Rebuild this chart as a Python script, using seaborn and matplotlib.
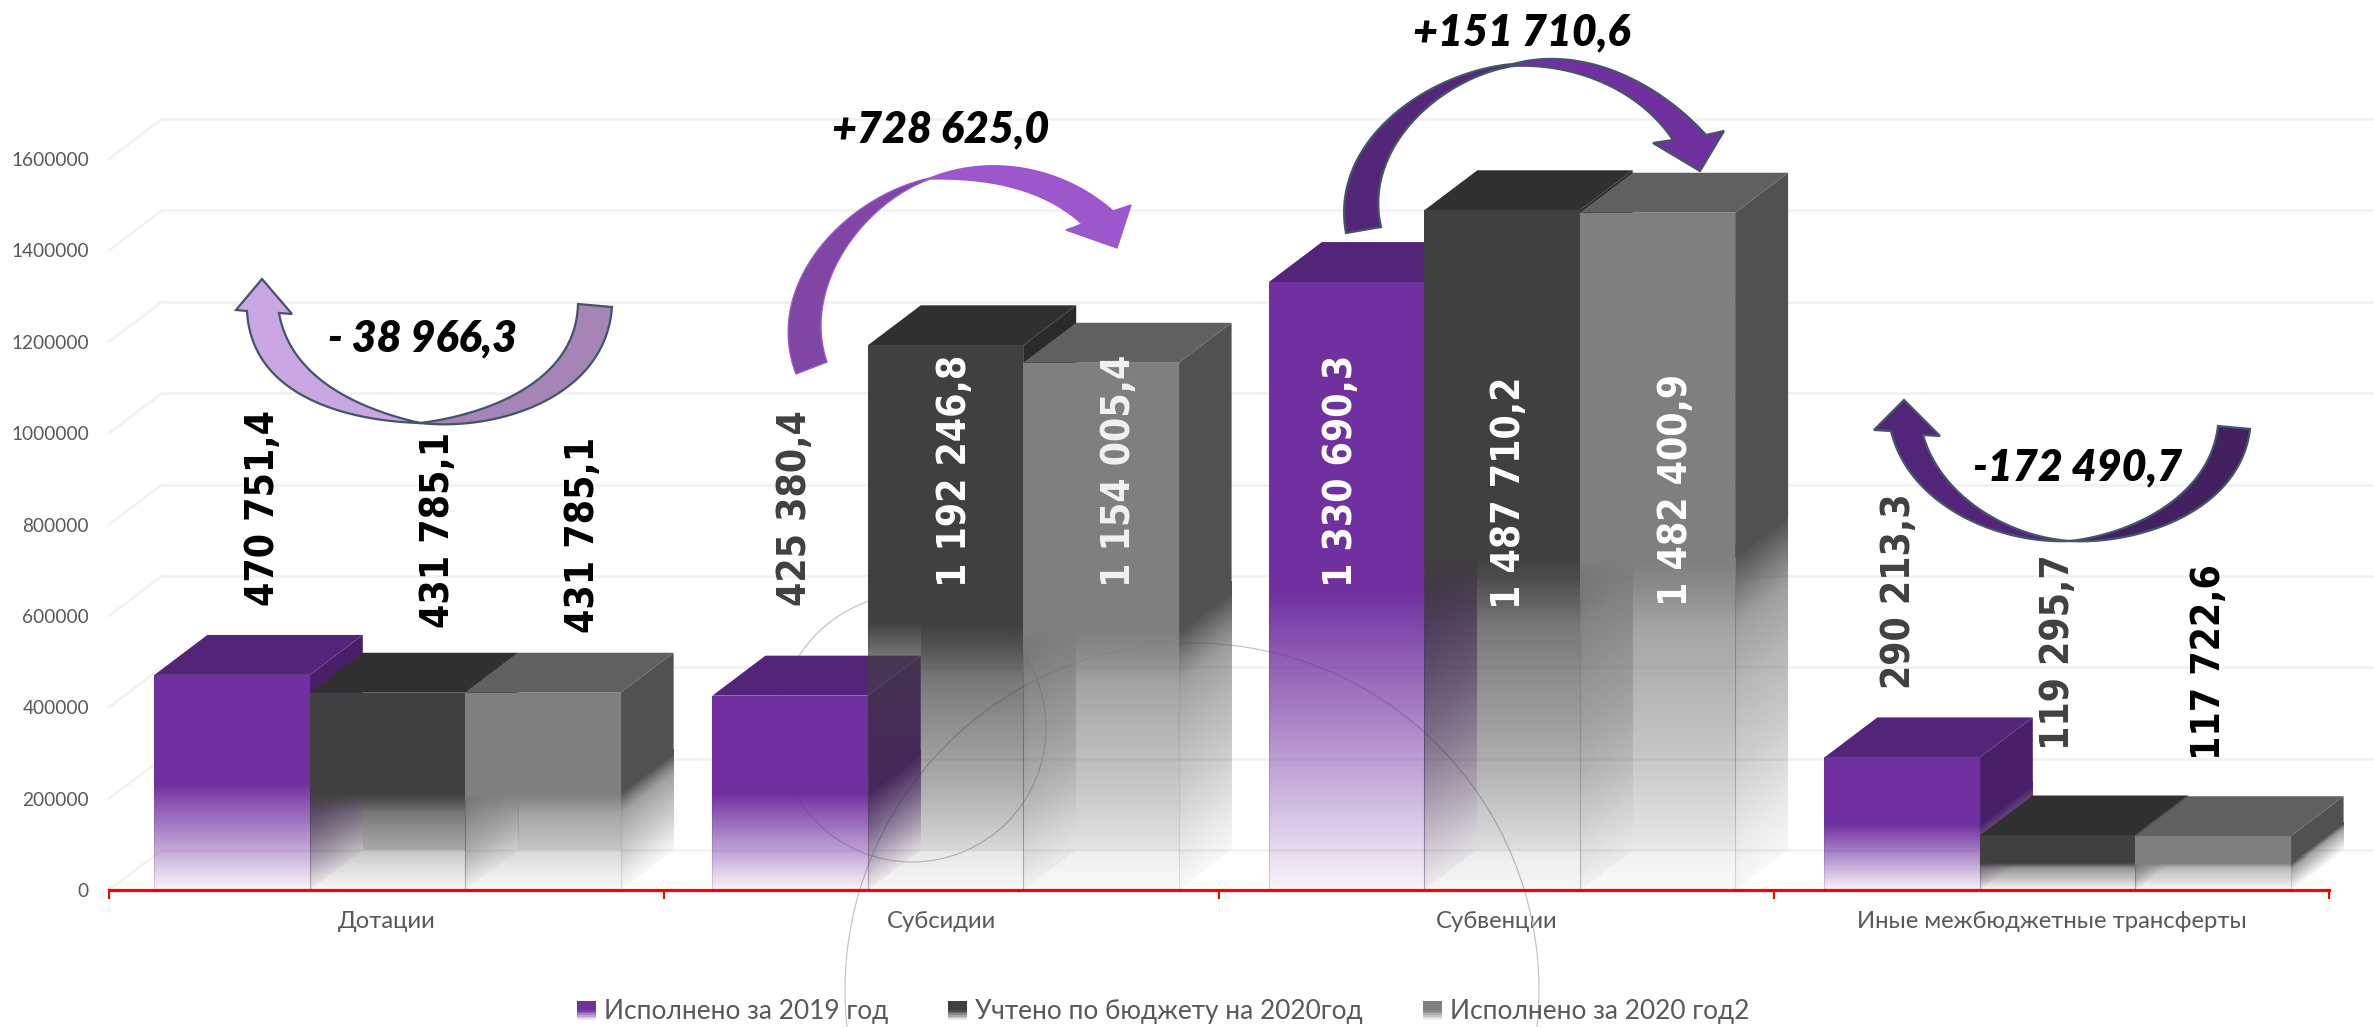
import matplotlib
matplotlib.use("Agg")
import matplotlib.pyplot as plt
import numpy as np
import pandas as pd
import seaborn as sns
from matplotlib.legend_handler import HandlerBase
from matplotlib.patches import Circle, Patch, Polygon, Rectangle
from matplotlib.transforms import Affine2D

categories = ["Дотации", "Субсидии", "Субвенции", "Иные межбюджетные трансферты"]
series_names = ["Исполнено за 2019 год", "Учтено по бюджету на 2020год", "Исполнено за 2020 год2"]
executed_2019 = [470751.4, 425380.4, 1330690.3, 290213.3]
budget_2020 = [431785.1, 1192246.8, 1487710.2, 119295.7]
executed_2020 = [431785.1, 1154005.4, 1482400.9, 117722.6]
y_ticks = [0, 200000, 400000, 600000, 800000, 1000000, 1200000, 1400000, 1600000]
changes = ["- 38 966,3", "+728 625,0", "+151 710,6", "-172 490,7"]

W, H = 2374, 1027
PX_X, PX_Y = 555, 91.4 / 200000   # pixels per data unit
DX, DY = 53 / PX_X, 40 / PX_Y     # depth of the fake 3D, in data units
group_nudge = [1 / PX_X, 4 / PX_X, 5.5 / PX_X, 6 / PX_X]   # groups sit a bit off the tick centres

front_cols = ["#7030A0", "#404040", "#7F7F7F"]
top_cols = ["#532578", "#303030", "#606060"]
side_cols = ["#481F66", "#2A2A2A", "#515151"]
grid_col = "#F1F1F1"
text_grey = "#595959"

# how opaque a face is at a fraction of the bar height
fade_t = [0, 0.07, 0.19, 0.30, 0.39, 0.43, 0.49]
fade_purple = [0.05, 0.18, 0.42, 0.64, 0.80, 0.88, 1.0]
fade_grey = [0.04, 0.12, 0.29, 0.42, 0.55, 0.72, 1.0]
fade_curves = [fade_purple, fade_grey, fade_grey]
wall_share = [0, 0.65, 0.65]
FADE_TOP = 0.49
SIDE_OVERLAP = 0.02   # side image runs a little under the solid part, no seam

# label positions in picture pixels: x centre, y of the text start
label_pos = [[(263, 606), (438, 628), (583, 633)],
             [(795, 606), (955, 587), (1119, 587)],
             [(1341, 587), (1509, 609), (1676, 606)],
             [(1899, 689), (2058, 750), (2209, 760)]]
label_cols = [["black", "black", "black"],
              ["#404040", "white", "#F2F2F2"],
              ["white", "white", "white"],
              ["#404040", "#404040", "black"]]
change_pos = [(423, 338), (941, 129), (1522, 32), (2078, 467)]

sns.set_theme(style="white")
plt.rcParams["font.family"] = ["Lato", "Open Sans", "DejaVu Sans"]

fig = plt.figure(figsize=(W / 100, H / 100), dpi=100)
ax = fig.add_axes([109 / W, (H - 890) / H, 2220 / W, 731 / H])
ax.patch.set_visible(False)
px = Affine2D().scale(1, -1).translate(0, H)   # decorations are placed in picture pixels

df = pd.DataFrame({
    "cat": categories * 3,
    "series": np.repeat(series_names, 4),
    "value": executed_2019 + budget_2020 + executed_2020,
})
sns.barplot(data=df, x="cat", y="value", hue="series", palette=front_cols, saturation=1,
            width=0.84, gap=0, legend=False, ax=ax)
ax.set_xlabel("")
ax.set_ylabel("")


def fade_image(x0, x1, y0, y1, col, alpha_of, z):
    # one pixel per cell, so the slanted faces get no moire
    nx = max(int(round((x1 - x0) * PX_X)), 1)
    ny = max(int(round((y1 - y0) * PX_Y)), 1)
    xs = np.linspace(x0, x1, nx, endpoint=False) + (x1 - x0) / nx / 2
    ys = np.linspace(y0, y1, ny, endpoint=False) + (y1 - y0) / ny / 2
    X, Y = np.meshgrid(xs, ys)
    img = np.zeros((ny, nx, 4))
    img[..., :3] = matplotlib.colors.to_rgb(col)
    img[..., 3] = alpha_of(X, Y)
    ax.imshow(img, extent=(x0, x1, y0, y1), origin="lower", aspect="auto", interpolation="nearest",
              zorder=z, clip_on=False)


def draw_bar(bar, i, z):
    x0, x1 = bar.get_x(), bar.get_x() + bar.get_width()
    h = bar.get_height()
    curve = fade_curves[i]
    top = FADE_TOP * h

    def fade(t, upper=FADE_TOP):
        return np.where((t >= 0) & (t < upper), np.interp(t, fade_t, curve), 0)

    # back wall, seen through the faded front only
    if wall_share[i] > 0 and top > DY:
        fade_image(x0 + DX, x1, DY, top, front_cols[i],
                   lambda X, Y: wall_share[i] * fade(Y / h), z)

    # side face
    fade_image(x1, x1 + DX, 0, top + DY + SIDE_OVERLAP * h, side_cols[i],
               lambda X, Y: fade((Y - DY * (X - x1) / DX) / h, FADE_TOP + SIDE_OVERLAP), z + 0.1)
    ax.add_patch(Polygon([(x1, top), (x1 + DX, top + DY), (x1 + DX, h + DY), (x1, h)],
                         facecolor=side_cols[i], edgecolor="none", zorder=z + 0.1, clip_on=False))

    # top face
    ax.add_patch(Polygon([(x0, h), (x1, h), (x1 + DX, h + DY), (x0 + DX, h + DY)],
                         facecolor=top_cols[i], edgecolor="none", zorder=z + 0.2, clip_on=False))

    # front face, the seaborn bar keeps only its outline
    fade_image(x0, x1, 0, top, front_cols[i], lambda X, Y: fade(Y / h), z + 0.3)
    ax.add_patch(Rectangle((x0, top), x1 - x0, h - top, facecolor=front_cols[i],
                           edgecolor="none", zorder=z + 0.3))
    bar.set_facecolor("none")
    bar.set_edgecolor(matplotlib.colors.to_rgba(front_cols[i], 0.2))
    bar.set_linewidth(0.8)
    bar.set_zorder(z + 0.4)


for i, container in enumerate(ax.containers):
    for j, bar in enumerate(container):
        bar.set_x(bar.get_x() + group_nudge[j])
        draw_bar(bar, i, 3 + i)

ax.set_xlim(-0.5, 3.5)
ax.set_ylim(0, 1600000)

# grid on the back wall with its diagonals on the left
for y in y_ticks:
    ax.plot([-0.5, -0.5 + DX], [y, y + DY], color=grid_col, lw=1.8, zorder=1, clip_on=False)
    ax.plot([-0.5 + DX, 3.5 + DX], [y + DY, y + DY], color=grid_col, lw=1.8, zorder=1, clip_on=False)

# two thin circles left behind the chart
for cx, cy, r in [(912, 728, 134), (1192, 990, 347)]:
    ax.add_patch(Circle((cx, cy), r, transform=px, fill=False, edgecolor="#BFBFBF", lw=0.8,
                        zorder=1.5, clip_on=False))

sns.despine(ax=ax, left=True, top=True, right=True)
ax.spines["bottom"].set_color("#FF0000")
ax.spines["bottom"].set_linewidth(2.3)
ax.spines["bottom"].set_zorder(20)

ax.set_yticks(y_ticks)
ax.set_yticklabels([str(v) for v in y_ticks])
ax.tick_params(axis="y", length=0, pad=14.5, labelsize=13.7, labelcolor=text_grey)
ax.set_xticks([-0.5, 0.5, 1.5, 2.5, 3.5], labels=[""] * 5)
ax.set_xticks([0, 1, 2, 3], labels=categories, minor=True)
ax.tick_params(axis="x", which="major", length=6.5, width=1.5, color="#FF0000", bottom=True)
ax.tick_params(axis="x", which="minor", length=0, pad=15, labelsize=17.2, labelcolor=text_grey)

# values on the bars
for i, vals in enumerate([executed_2019, budget_2020, executed_2020]):
    for j, v in enumerate(vals):
        s = f"{v:,.1f}".replace(",", " ").replace(".", ",")
        lx, ly = label_pos[j][i]
        ax.text(lx, ly, s, transform=px, rotation=90, ha="center", va="bottom", fontsize=28,
                fontweight="bold", fontstretch="condensed", family="DejaVu Sans",
                color=label_cols[j][i], zorder=40, clip_on=False)


def smooth(pts, deg=3, n=50):
    # cubic through the outline points, ends held in place
    pts = np.array(pts, float)
    d = np.r_[0, np.cumsum(np.hypot(*np.diff(pts, axis=0).T))]
    d /= d[-1]
    w = np.ones(len(pts))
    w[[0, -1]] = 30
    t = np.linspace(0, 1, n)
    return np.c_[np.polyval(np.polyfit(d, pts[:, 0], deg, w=w), t),
                 np.polyval(np.polyfit(d, pts[:, 1], deg, w=w), t)]


def curved_arrow(tail_outer, tail_inner, head_outer, head_inner, barbs, tail_col, head_col, edge, lw=1.6):
    tail = np.vstack([smooth(tail_outer), smooth(tail_inner)[::-1]])
    head = np.vstack([smooth(head_outer), np.array(barbs, float), smooth(head_inner)[::-1]])
    for shape, col, z in [(tail, tail_col, 30), (head, head_col, 30.1)]:
        ax.add_patch(Polygon(shape, closed=True, transform=px, facecolor=col, edgecolor=edge, lw=lw,
                             joinstyle="miter", zorder=z, clip_on=False))


curved_arrow([(612, 307), (600, 350), (553, 397), (487, 420), (420, 423)],
             [(578, 304), (567, 347), (537, 380), (487, 407), (420, 423)],
             [(420, 423), (337, 410), (277, 377), (247, 311)],
             [(420, 423), (353, 400), (303, 363), (279, 313)],
             [(236, 310), (262, 279), (292, 314)], "#A585B5", "#C9A7E3", "#44546A")
curved_arrow([(796, 374), (788, 333), (803, 273), (843, 223), (903, 187), (930, 178)],
             [(827, 362), (820, 320), (833, 273), (867, 223), (903, 190), (930, 179)],
             [(930, 178), (977, 167), (1010, 166), (1063, 180), (1113, 211)],
             [(930, 179), (977, 181), (1030, 193), (1082, 224)],
             [(1131, 205), (1117, 248), (1066, 230)], "#7F47A3", "#9B57CB", "#9B57CB", lw=1.0)
curved_arrow([(1346, 233), (1343, 207), (1363, 150), (1413, 100), (1470, 73), (1513, 64)],
             [(1381, 227), (1378, 207), (1393, 147), (1430, 107), (1473, 77), (1513, 66)],
             [(1513, 64), (1547, 59), (1583, 62), (1647, 87), (1706, 135)],
             [(1513, 66), (1547, 67), (1603, 83), (1647, 110), (1673, 140)],
             [(1724, 131), (1700, 171), (1653, 143)], "#54267A", "#7030A0", "#44546A")
curved_arrow([(2250, 429), (2237, 470), (2193, 510), (2143, 533), (2070, 541)],
             [(2218, 426), (2207, 463), (2177, 497), (2127, 527), (2070, 541)],
             [(2070, 541), (1993, 530), (1943, 503), (1903, 463), (1891, 431)],
             [(2070, 541), (2010, 527), (1970, 500), (1940, 473), (1923, 435)],
             [(1874, 430), (1904, 400), (1940, 436)], "#43205F", "#52247A", "#44546A")

for s, (cx, cy) in zip(changes, change_pos):
    ax.text(cx, cy, s, transform=px, ha="center", va="center", fontsize=31, fontweight=800,
            fontstyle="italic", color="black", zorder=41, clip_on=False)


class FadeHandle(HandlerBase):
    def create_artists(self, legend, orig, xd, yd, width, height, fontsize, trans):
        col = orig.get_facecolor()
        out = []
        n = 12
        for k in range(n):
            a = np.interp((k + 0.5) / n, fade_t, fade_purple)
            out.append(Rectangle((-xd, -yd + height * k / n), width, height / n, facecolor=col[:3] + (a,),
                                 edgecolor="none", transform=trans))
        return out


handles = [Patch(facecolor=c) for c in front_cols]
ax.legend(handles, series_names, handler_map={Patch: FadeHandle()}, loc="center",
          bbox_to_anchor=(1163 / W, 15 / H), bbox_transform=fig.transFigure, ncol=3, frameon=False,
          fontsize=18.9, labelcolor=text_grey, handlelength=0.72, handleheight=0.72, handletextpad=0.3,
          columnspacing=2.3, borderpad=0)

fig.savefig("out.png", facecolor="white")
